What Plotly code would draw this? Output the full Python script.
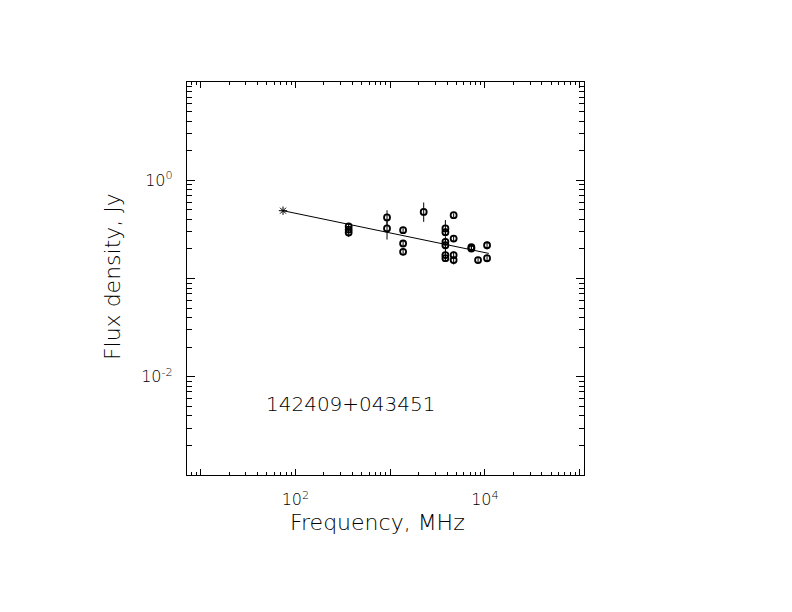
import plotly.graph_objects as go

# source name
source = "142409+043451"

# measured flux densities (MHz, Jy) with upper / lower errors
freq = [365, 365, 365, 927, 927, 1370, 1370, 1370, 2260,
        3830, 3830, 3830, 3830, 3830, 3830,
        4680, 4680, 4680, 4680, 7200, 7200, 8470, 10540, 10540]
flux = [0.340, 0.315, 0.294, 0.418, 0.323, 0.310, 0.227, 0.187, 0.476,
        0.323, 0.296, 0.236, 0.218, 0.173, 0.161,
        0.441, 0.255, 0.173, 0.154, 0.208, 0.202, 0.154, 0.218, 0.161]
err_up = [0.023, 0.020, 0.020, 0.077, 0.074, 0.020, 0.018, 0.015, 0.118,
          0.070, 0.030, 0.030, 0.030, 0.020, 0.020,
          0.020, 0.020, 0.015, 0.015, 0.015, 0.015, 0.012, 0.020, 0.015]
err_dn = [0.020, 0.020, 0.029, 0.077, 0.074, 0.020, 0.018, 0.015, 0.099,
          0.050, 0.030, 0.030, 0.030, 0.020, 0.014,
          0.020, 0.020, 0.015, 0.015, 0.015, 0.015, 0.012, 0.020, 0.015]

# low-frequency point drawn as a star
star_freq = [74]
star_flux = [0.49]

# fitted power law
fit_freq = [74, 11000]
fit_flux = [0.49, 0.18]

xtick_vals = [1e1, 1e2, 1e3, 1e4, 1e5]
xtick_text = ["", "10<sup>2</sup>", "", "10<sup>4</sup>", ""]
ytick_vals = [1e-3, 1e-2, 1e-1, 1e0, 1e1]
ytick_text = ["", "10<sup>-2</sup>", "", "10<sup>0</sup>", ""]

x_minor = [m * 10 ** d for d in range(0, 6) for m in range(2, 10)]
y_minor = [m * 10 ** d for d in range(-3, 2) for m in range(2, 10)]

font = "DejaVu Sans"

data = [
    go.Scatter(x=fit_freq, y=fit_flux, mode='lines',
               line=dict(color='black', width=1), hoverinfo='skip'),
    go.Scatter(x=freq, y=flux, mode='markers',
               marker=dict(symbol='circle-open', size=6, color='black',
                           line=dict(width=1.8)),
               error_y=dict(type='data', symmetric=False, array=err_up,
                            arrayminus=err_dn, width=0, thickness=1,
                            color='black')),
    go.Scatter(x=star_freq, y=star_flux, mode='markers',
               marker=dict(symbol='asterisk-open', size=7, color='black',
                           line=dict(width=1, color='black'))),
]

# page body has an 8px margin, so the figure is a little smaller than the window
layout = go.Layout(
    width=784, height=604,
    paper_bgcolor='white', plot_bgcolor='white',
    showlegend=False,
    margin=dict(l=179, r=208, t=74, b=137),
    font=dict(family=font, color='black'),
    xaxis=dict(type='log', range=[0.856, 5.046],
               showline=True, linecolor='black', linewidth=1.3,
               mirror='ticks', showgrid=False, zeroline=False,
               ticks='inside', ticklen=6, tickwidth=1.2, tickcolor='black',
               tickmode='array', tickvals=xtick_vals, ticktext=xtick_text,
               tickfont=dict(size=16, family=font, weight=200, color='black'),
               ticklabelstandoff=10,
               minor=dict(tickmode='array', tickvals=x_minor, ticks='inside',
                          ticklen=3, tickwidth=1.1, tickcolor='black',
                          showgrid=False)),
    yaxis=dict(type='log', range=[-3, 1],
               showline=True, linecolor='black', linewidth=1.3,
               mirror='ticks', showgrid=False, zeroline=False,
               ticks='inside', ticklen=8, tickwidth=1.2, tickcolor='black',
               tickmode='array', tickvals=ytick_vals, ticktext=ytick_text,
               tickfont=dict(size=16, family=font, weight=200, color='black'),
               ticklabelstandoff=10,
               minor=dict(tickmode='array', tickvals=y_minor, ticks='inside',
                          ticklen=4.5, tickwidth=1.1, tickcolor='black',
                          showgrid=False)),
    annotations=[
        dict(text="Frequency, MHz", xref='paper', yref='paper',
             x=0.4786, y=-0.122, xanchor='center', yanchor='middle',
             showarrow=False,
             font=dict(size=22, family=font, weight=200, color='black')),
        dict(text="Flux density, Jy", xref='paper', yref='paper',
             x=-0.186, y=0.504, xanchor='center', yanchor='middle',
             textangle=-90, showarrow=False,
             font=dict(size=22, family=font, weight=200, color='black')),
        dict(text=source, xref='paper', yref='paper',
             x=(350 - 187) / 397, y=(475 - 404) / 393,
             xanchor='center', yanchor='middle', showarrow=False,
             font=dict(size=20, family=font, weight=200, color='black')),
    ],
)

fig = go.Figure(data=data, layout=layout)
fig.write_html("out.html")
